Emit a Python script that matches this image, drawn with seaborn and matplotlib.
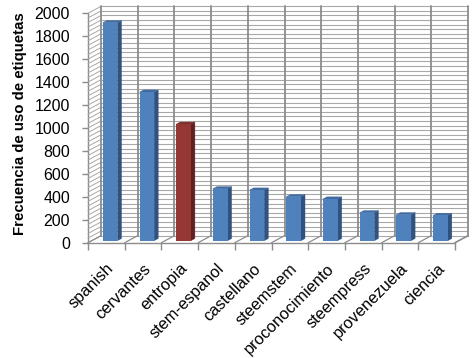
import matplotlib
matplotlib.use("Agg")
import matplotlib.pyplot as plt
import matplotlib.transforms as mtransforms
from matplotlib.patches import Polygon
import seaborn as sns

categories = ["spanish", "cervantes", "entropia", "stem-espanol", "castellano",
              "steemstem", "proconocimiento", "steempress", "provenezuela", "ciencia"]
values = [1900, 1295, 1015, 452, 441, 383, 363, 243, 226, 220]
highlight = "entropia"
y_ticks = list(range(0, 2001, 200))
ylabel = "Frecuencia de uso de etiquetas"

BLUE_F, BLUE_S, BLUE_T = "#4F81BD", "#30527f", "#3f6aa2"
RED_F, RED_S, RED_T = "#953735", "#60201f", "#7e2c2a"

sns.set_theme(style="white")
plt.rcParams["font.family"] = ["Liberation Sans", "DejaVu Sans"]

fig = plt.figure(figsize=(4.75, 3.58), dpi=100)
fig.patch.set_facecolor("white")
ax = fig.add_axes([88 / 475, (358 - 242.7) / 358, 367 / 475, 229.4 / 358])
ax.set_facecolor("none")

n = len(categories)
ax.set_xlim(-0.5, n - 0.5)
ax.set_ylim(0, 2000)
PX = n / 367.0
PY = 2000 / 229.4

WDX, WDY = 13 * PX, 7 * PY
FDX, FDY = 3.8 * PX, 2.05 * PY
BDX, BDY = 7.8 * PX, 4.2 * PY

grid_c = "#a8a8a8"
vgrid_c = "#8c8c8c"
for v in range(0, 2001, 40):
    ax.plot([-0.5 + WDX, n - 0.5 + WDX], [v + WDY, v + WDY], color=grid_c,
            lw=0.8, clip_on=False, zorder=1)
    ax.plot([-0.5, -0.5 + WDX], [v, v + WDY], color=grid_c, lw=0.7,
            clip_on=False, zorder=1)
for b in [i - 0.5 for i in range(n + 1)]:
    ax.plot([b + WDX, b + WDX], [WDY, 2000 + WDY], color=vgrid_c, lw=1.3,
            clip_on=False, zorder=1)
    ax.plot([b, b + WDX], [0, WDY], color=vgrid_c, lw=0.9, clip_on=False, zorder=1)

palette = {c: (RED_F if c == highlight else BLUE_F) for c in categories}
sns.barplot(x=categories, y=values, hue=categories, palette=palette, width=0.4,
            legend=False, ax=ax, saturation=1, zorder=3)

front_shift = mtransforms.Affine2D().translate(FDX, FDY) + ax.transData
for p, c in zip(ax.patches, categories):
    x0, w, h = p.get_x(), p.get_width(), p.get_height()
    side_c = RED_S if c == highlight else BLUE_S
    top_c = RED_T if c == highlight else BLUE_T
    p.set_linewidth(0)
    p.set_transform(front_shift)
    side = Polygon([(x0 + w + FDX, FDY), (x0 + w + FDX, h + FDY),
                    (x0 + w + BDX, h + BDY), (x0 + w + BDX, BDY)],
                   closed=True, facecolor=side_c, edgecolor=side_c, lw=0.3,
                   zorder=2.9, clip_on=False)
    top = Polygon([(x0 + FDX, h + FDY), (x0 + w + FDX, h + FDY),
                   (x0 + w + BDX, h + BDY), (x0 + BDX, h + BDY)],
                  closed=True, facecolor=top_c, edgecolor=top_c, lw=0.3,
                  zorder=2.9, clip_on=False)
    ax.add_patch(side)
    ax.add_patch(top)

for s in ["top", "right"]:
    ax.spines[s].set_visible(False)
for s in ["bottom", "left"]:
    ax.spines[s].set_color(vgrid_c)
    ax.spines[s].set_linewidth(1.0)
    ax.spines[s].set_zorder(0.5)
ax.plot([n - 0.5, n - 0.5 + WDX], [0, WDY], color=vgrid_c, lw=1.0, clip_on=False)

ax.set_yticks(y_ticks)
ax.set_yticklabels([str(t) for t in y_ticks])
ax.tick_params(axis="y", which="major", length=4, width=1, color=vgrid_c,
               direction="out", pad=9, labelsize=11.5, labelcolor="black", left=True)
ax.set_xticks(range(n))
ax.set_xticklabels(categories, rotation=45, ha="right", rotation_mode="anchor")
ax.tick_params(axis="x", which="major", length=0, pad=13, labelsize=11.8,
               labelcolor="black")
ax.set_xticks([i - 0.5 for i in range(n + 1)], minor=True)
ax.tick_params(axis="x", which="minor", length=5, width=1, color=vgrid_c,
               direction="out", bottom=True)
ax.set_xlabel("")
ax.set_ylabel("")
fig.text(20 / 475, 1 - 124 / 358, ylabel, rotation=90, ha="center", va="center",
         fontsize=10.8, fontweight="bold", color="black")

fig.savefig("out.png", dpi=100, facecolor="white")
